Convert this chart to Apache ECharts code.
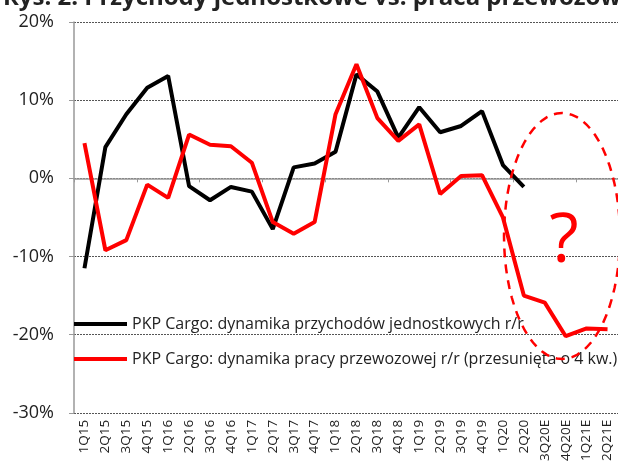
<!DOCTYPE html>
<html lang="pl">
<head>
    <meta charset="UTF-8">
    <title>Przychody jednostkowe vs. praca przewozowa</title>
    <script src="https://cdn.jsdelivr.net/npm/echarts@6/dist/echarts.min.js"></script>
    <style>
        html,body{margin:0;padding:0;background:#fff}
        #main{width:618px;height:464px}
    </style>
</head>
<body>
<div id="main"></div>
<script>
    // kwartaly
    var quarters = ['1Q15','2Q15','3Q15','4Q15','1Q16','2Q16','3Q16','4Q16','1Q17','2Q17','3Q17','4Q17',
        '1Q18','2Q18','3Q18','4Q18','1Q19','2Q19','3Q19','4Q19','1Q20','2Q20','3Q20E','4Q20E','1Q21E','2Q21E'];
    // dynamika przychodow jednostkowych r/r (%)
    var revenueUnit = [-11.5, 4.0, 8.2, 11.6, 13.1, -1.0, -2.8, -1.1, -1.7, -6.5, 1.4, 1.9,
        3.4, 13.3, 11.1, 5.2, 9.1, 5.9, 6.7, 8.6, 1.7, -1.1];
    // dynamika pracy przewozowej r/r, przesunieta o 4 kw. (%)
    var transportWork = [4.5, -9.2, -7.9, -0.8, -2.5, 5.6, 4.3, 4.1, 2.0, -5.6, -7.1, -5.6,
        8.2, 14.6, 7.7, 4.8, 6.9, -2.0, 0.3, 0.4, -5.0, -15.0, -15.9, -20.2, -19.2, -19.3];
    var yTicks = [-30, -20, -10, 0, 10, 20];

    var nameRev = 'PKP Cargo: dynamika przychodów jednostkowych r/r';
    var nameWork = 'PKP Cargo: dynamika pracy przewozowej r/r (przesunięta o 4 kw.)';
    var font = '"Open Sans", sans-serif';

    // owal przerywany (adnotacja)
    var oval = [];
    for (var k = 0; k <= 72; k++) {
        var a = k / 72 * Math.PI * 2;
        oval.push([562 + 58 * Math.cos(a), 236 + 123 * Math.sin(a)]);
    }

    var myChart = echarts.init(document.getElementById('main'));
    myChart.setOption({
        animation: false,
        textStyle: {fontFamily: font},
        grid: {left: 74, top: 22, width: 546, height: 392},
        legend: {
            orient: 'vertical',
            left: 69,
            top: 311,
            itemWidth: 53,
            itemHeight: 4,
            itemGap: 19,
            icon: 'rect',
            textStyle: {fontFamily: font, fontSize: 16, color: '#222'},
            data: [nameRev, nameWork]
        },
        xAxis: [{
            type: 'category',
            data: quarters,
            boundaryGap: true,
            axisLine: {onZero: true, lineStyle: {color: '#999', width: 1.5}},
            axisTick: {show: true, length: 4, lineStyle: {color: '#999'}},
            axisLabel: {show: false}
        }, {
            type: 'category',
            data: quarters,
            position: 'bottom',
            axisLine: {show: false, onZero: false},
            axisTick: {show: false},
            axisLabel: {rotate: 90, fontSize: 13.5, color: '#222', margin: 7, interval: 0, fontFamily: font}
        }],
        yAxis: {
            type: 'value',
            min: -30,
            max: 20,
            interval: 10,
            axisLine: {show: true, lineStyle: {color: '#999', width: 1.5}},
            axisTick: {show: true, length: 5, lineStyle: {color: '#999'}},
            axisLabel: {
                fontSize: 18, color: '#222', margin: 20, fontFamily: font,
                formatter: function (v) { return yTicks.indexOf(v) >= 0 ? v + '%' : ''; }
            },
            splitLine: {show: true, lineStyle: {color: '#555', type: [2, 1], width: 1}}
        },
        series: [{
            name: nameRev,
            type: 'line',
            data: revenueUnit,
            symbol: 'none',
            lineStyle: {color: '#000', width: 4},
            itemStyle: {color: '#000'}
        }, {
            name: nameWork,
            type: 'line',
            data: transportWork,
            symbol: 'none',
            lineStyle: {color: '#ff0000', width: 4},
            itemStyle: {color: '#ff0000'}
        }],
        graphic: [{
            type: 'text',
            left: 3,
            top: -14,
            style: {text: 'Rys. 2. Przychody jednostkowe vs. praca przewozowa', font: 'bold 24px "Open Sans", sans-serif', fill: '#222'}
        }, {
            type: 'polyline',
            z: 100,
            shape: {points: oval},
            style: {stroke: '#ff0000', fill: null, lineWidth: 2.5, lineDash: [9, 7]}
        }, {
            type: 'text',
            z: 100,
            x: 564,
            y: 243,
            style: {text: '?', font: '68px "Open Sans", sans-serif', fill: '#ff0000', align: 'center', verticalAlign: 'middle'}
        }]
    });
</script>
</body>
</html>
